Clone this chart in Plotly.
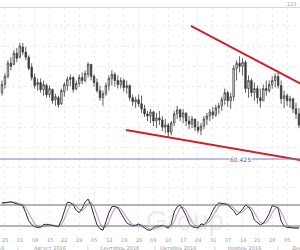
import plotly.graph_objects as go
import pandas as pd

# ---- data ----
dates = pd.bdate_range("2016-07-22", periods=101)

open_ = [63.70,64.10,64.50,65.15,65.10,65.65,65.45,65.95,65.70,65.45,
         64.95,64.45,64.10,64.20,63.85,64.05,63.60,63.85,63.35,63.45,
         63.15,63.75,64.05,64.35,64.45,63.90,64.15,64.45,64.30,64.60,
         65.10,64.50,64.20,63.80,63.45,63.65,64.05,64.40,64.60,64.30,
         64.10,64.30,63.95,64.05,63.45,63.25,63.35,63.15,62.90,62.65,
         62.55,62.75,62.30,62.45,62.35,62.00,62.10,61.75,62.20,62.65,
         62.85,62.50,62.70,62.30,62.15,62.40,62.00,61.85,62.05,62.40,
         62.55,62.75,62.60,62.95,63.05,63.35,63.70,63.30,63.50,64.90,
         65.15,65.00,65.20,63.90,64.30,63.70,63.90,63.45,63.30,63.90,
         63.80,64.10,64.30,64.50,64.05,63.40,63.55,63.30,63.40,62.90,
         62.65]
high = [64.30,64.65,65.30,65.45,65.80,65.90,66.15,66.15,65.95,65.55,
        65.15,64.65,64.40,64.40,64.30,64.15,64.05,63.90,63.65,63.55,
        63.90,64.20,64.50,64.60,64.50,64.30,64.60,64.70,64.80,65.20,
        65.10,64.60,64.40,64.05,63.80,64.20,64.55,64.80,64.70,64.55,
        64.45,64.40,64.30,64.10,63.60,63.50,63.60,63.55,63.10,62.80,
        62.90,62.80,62.70,62.80,62.55,62.40,62.20,62.30,62.80,63.05,
        62.90,62.90,62.70,62.55,62.55,62.40,62.30,62.20,62.55,62.70,
        62.90,63.00,63.10,63.20,63.50,63.90,63.80,63.70,65.05,65.30,
        65.50,65.40,65.30,64.55,64.40,64.20,64.05,63.90,64.10,64.30,
        64.30,64.50,64.65,64.80,64.30,63.80,63.65,63.55,63.45,63.20,
        62.95]
low = [63.55,63.90,64.40,64.80,65.05,65.20,65.40,65.55,65.30,64.80,
       64.30,63.90,63.80,63.70,63.55,63.45,63.45,63.15,63.05,62.95,
       63.10,63.50,63.80,64.00,63.70,63.80,64.00,64.10,64.20,64.45,
       64.30,64.00,63.70,63.30,63.05,63.55,63.80,64.05,64.00,63.90,
       63.90,63.75,63.65,63.30,63.05,62.95,63.00,62.70,62.50,62.30,
       62.20,62.05,61.95,62.10,61.80,61.70,61.50,61.60,62.05,62.40,
       62.30,62.20,62.05,61.90,61.95,61.80,61.70,61.60,61.90,62.10,
       62.30,62.40,62.50,62.65,62.80,63.10,63.00,62.90,63.30,64.30,
       64.70,64.55,63.70,63.45,63.50,63.30,63.15,62.95,63.30,63.55,
       63.70,63.90,63.95,63.90,63.15,62.95,63.05,62.95,62.70,62.40,
       61.95]
close = [64.10,64.50,65.15,65.00,65.65,65.40,66.00,65.70,65.45,64.90,
         64.45,64.05,64.20,63.85,64.10,63.60,63.90,63.30,63.50,63.10,
         63.80,64.10,64.35,64.45,63.85,64.15,64.45,64.30,64.65,65.10,
         64.50,64.20,63.80,63.45,63.65,64.05,64.40,64.60,64.30,64.10,
         64.30,63.95,64.05,63.45,63.25,63.35,63.15,62.90,62.65,62.55,
         62.75,62.30,62.45,62.35,62.00,62.10,61.75,62.20,62.65,62.85,
         62.50,62.70,62.30,62.15,62.40,62.00,61.85,62.05,62.40,62.55,
         62.75,62.60,62.95,63.05,63.35,63.70,63.30,63.50,64.90,65.15,
         65.00,65.20,63.90,64.30,63.70,63.90,63.45,63.30,63.90,63.80,
         64.10,64.30,64.50,64.05,63.40,63.55,63.30,63.40,62.90,62.65,
         62.10]

stoch_k = [86,87,89,89,86,83,82,78,58,35,
           24,18,16,17,24,25,23,21,19,18,
           36,62,88,87,80,65,58,70,88,97,
           78,50,23,12,8,32,58,75,76,72,
           58,42,29,24,20,22,26,20,14,9,
           8,16,19,20,22,18,14,26,60,75,
           80,66,50,28,18,16,14,26,24,33,
           46,64,78,86,85,83,80,72,64,51,
           58,68,80,75,62,37,30,23,28,40,
           56,78,76,70,34,20,16,15,14,14,
           15]
stoch_d = [84,86,87,88,88,86,84,81,72,57,
           39,26,19,17,19,22,24,23,21,19,
           24,39,62,79,85,77,68,64,72,85,
           88,75,50,28,14,17,33,55,70,74,
           69,57,43,32,24,22,23,23,20,14,
           10,11,14,18,20,20,18,19,33,54,
           72,74,65,48,32,21,16,19,21,28,
           34,48,63,76,83,85,83,78,72,62,
           58,59,69,74,72,58,43,30,27,30,
           41,58,70,75,60,41,23,17,15,14,
           14]
stoch_levels = [80, 20]

level_price = 60.425
level_label = "60.425"

upper_trend_x = [63.6, 101.0]
upper_trend_y = [66.99, 64.11]
lower_trend_x = [41.75, 101.0]
lower_trend_y = [61.86, 60.36]

months = ["Июль 2016", "Август 2016", "Сентябрь 2016", "Октябрь 2016", "Ноябрь 2016", "Декабрь 2016"]

# ---- derived ----
idx = list(range(len(dates)))
tickvals = [i for i, d in enumerate(dates) if d.weekday() == 0]
ticktext = [dates[i].strftime("%d") for i in tickvals]

H_PLOT = 234.0
def py(pix):
    return (H_PLOT - pix) / H_PLOT

XR = [-0.67, 100.35]
grid = "#ededed"
font = "DejaVu Sans"
lab = "#9a9a9a"

fig = go.Figure()
fig.add_trace(go.Candlestick(
    x=idx, open=open_, high=high, low=low, close=close,
    xaxis="x", yaxis="y",
    increasing=dict(line=dict(color="#3a3a3a", width=0.8), fillcolor="white"),
    decreasing=dict(line=dict(color="#3a3a3a", width=0.8), fillcolor="#3a3a3a"),
    whiskerwidth=0, showlegend=False, hoverinfo="skip"))
fig.add_trace(go.Scatter(x=upper_trend_x, y=upper_trend_y, mode="lines",
                         line=dict(color="#d21f2a", width=2), xaxis="x", yaxis="y",
                         showlegend=False, hoverinfo="skip"))
fig.add_trace(go.Scatter(x=lower_trend_x, y=lower_trend_y, mode="lines",
                         line=dict(color="#d21f2a", width=2), xaxis="x", yaxis="y",
                         showlegend=False, hoverinfo="skip"))
fig.add_trace(go.Scatter(x=idx, y=stoch_d, mode="lines",
                         line=dict(color="#c9a3cf", width=1.2), xaxis="x2", yaxis="y2",
                         showlegend=False, hoverinfo="skip"))
fig.add_trace(go.Scatter(x=idx, y=stoch_k, mode="lines",
                         line=dict(color="#2a2a2a", width=1), xaxis="x2", yaxis="y2",
                         showlegend=False, hoverinfo="skip"))

shapes = [
    dict(type="line", xref="paper", yref="paper", x0=0, x1=1, y0=py(7.5), y1=py(7.5),
         line=dict(color="#d6d6d6", width=1)),
    dict(type="line", xref="paper", yref="y", x0=0, x1=1, y0=level_price, y1=level_price,
         line=dict(color="#7d7dc6", width=1)),
]
for lv in stoch_levels:
    shapes.append(dict(type="line", xref="paper", yref="y2", x0=0, x1=1, y0=lv, y1=lv,
                       line=dict(color="#6a6a6a", width=1)))

ann = [
    dict(x=80.2, y=level_price, xref="x", yref="y", text=level_label, showarrow=False,
         font=dict(size=6, color="#5a5aa8", family=font), bgcolor="white", borderpad=0),
    dict(x=0.995, y=py(4), xref="paper", yref="paper", text="223", showarrow=False,
         xanchor="right", yanchor="middle", font=dict(size=5, color="#aaaaaa", family=font)),
    dict(x=0.75, y=py(220), xref="paper", yref="paper", text="Group", showarrow=False,
         yanchor="middle", borderpad=0,
         font=dict(size=28, color="rgba(190,190,190,0.30)", family="Liberation Sans")),
]
# weekly tick labels
for tv, tt in zip(tickvals, ticktext):
    ann.append(dict(x=tv, y=py(240.5), xref="x2", yref="paper", text=tt, showarrow=False,
                    yanchor="middle", borderpad=0,
                    font=dict(size=5, color=lab, family=font)))
# month row
mrow = py(248)
month_pos = [(1.0, "right"), (16.2, "center"), (39.4, "center"), (59.3, "center"),
             (81.8, "center"), (97.3, "left")]
for (xp, anc), m in zip(month_pos, months):
    ann.append(dict(x=xp, y=mrow, xref="x2", yref="paper", text=m, showarrow=False,
                    xanchor=anc, yanchor="middle", borderpad=0,
                    font=dict(size=5, color=lab, family=font)))
for xp in [5.4, 29.0, 51.5, 71.7, 92.9]:
    ann.append(dict(x=xp, y=mrow, xref="x2", yref="paper", text="|", showarrow=False,
                    yanchor="middle", borderpad=0,
                    font=dict(size=5, color=lab, family=font)))

fig.update_layout(
    width=300, height=250,
    margin=dict(l=0, r=0, t=0, b=16),
    paper_bgcolor="white", plot_bgcolor="white",
    showlegend=False,
    xaxis=dict(domain=[0, 1], range=XR, anchor="y", showticklabels=False,
               tickvals=tickvals, showgrid=True, gridcolor=grid, griddash="dot",
               zeroline=False, showline=False, ticks="",
               rangeslider=dict(visible=False)),
    yaxis=dict(domain=[py(190), py(8)], range=[58.896, 67.877], showticklabels=False,
               tick0=60, dtick=1, showgrid=True, gridcolor=grid, griddash="dot",
               zeroline=False, showline=False, ticks=""),
    xaxis2=dict(domain=[0, 1], range=XR, anchor="y2", tickvals=tickvals,
                showticklabels=False,
                showgrid=True, gridcolor=grid, griddash="dot",
                zeroline=False, showline=False, ticks=""),
    yaxis2=dict(domain=[0, py(192)], range=[-2.86, 117.1], showticklabels=False,
                showgrid=False, zeroline=False, showline=False, ticks=""),
    shapes=shapes, annotations=ann,
)

fig.write_html("out.html")
